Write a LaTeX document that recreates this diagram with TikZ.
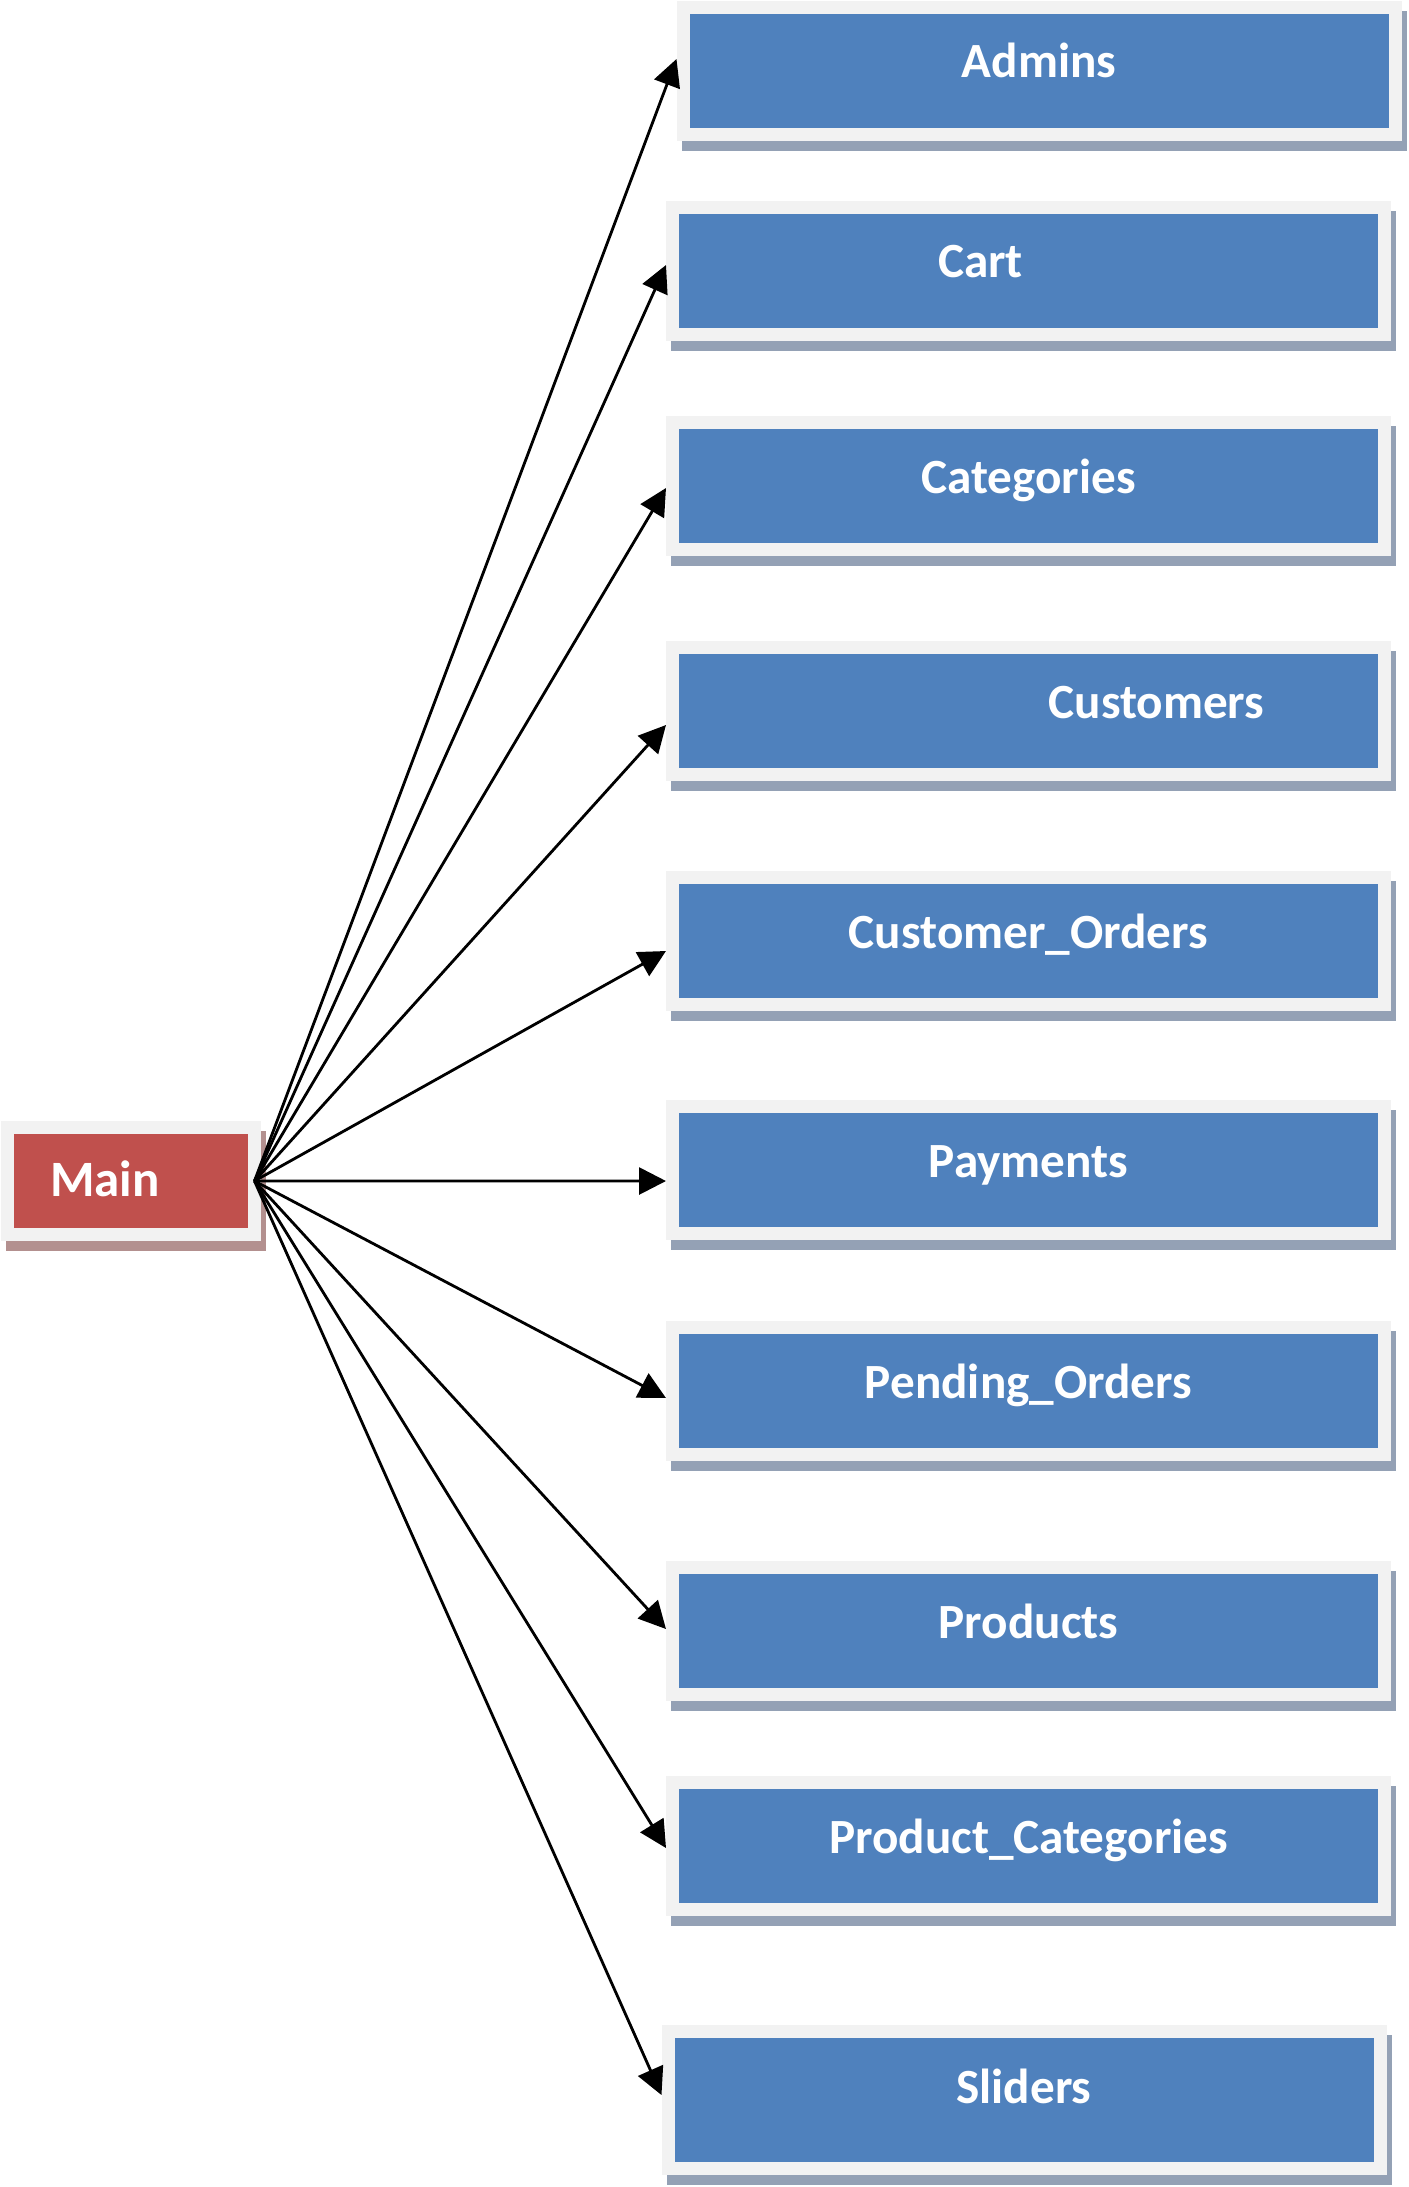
\documentclass[tikz,border=0pt]{standalone}
\usepackage{fontspec}
\setmainfont{Carlito}
\usetikzlibrary{arrows.meta,calc}
\definecolor{tblblue}{HTML}{4F81BD}
\definecolor{tblshadow}{HTML}{94A1B5}
\definecolor{mainred}{HTML}{C0504D}
\definecolor{mainshadow}{HTML}{B3908F}
\definecolor{framegray}{HTML}{F2F2F2}

\begin{document}
\begin{tikzpicture}[
    tbl/.style={fill=tblblue, draw=framegray, line width=0.13cm,
      minimum width=7.12cm, minimum height=1.27cm, inner sep=0pt,
      preaction={fill=tblshadow, draw=tblshadow, line width=0.13cm,
        transform canvas={shift={(0.05cm,-0.1cm)}}}},
    tbltext/.style={text=white, font=\fontsize{14}{16}\selectfont\bfseries,
      text height=0.7em, text depth=0.2em, inner sep=0pt, yshift=0.015cm},
    link/.style={line width=0.8pt, -{Triangle[length=0.27cm,width=0.27cm]}}]
  \useasboundingbox (0,0) rectangle (14.09,-21.87);

  % the main form on the left
  \node[fill=mainred, draw=framegray, line width=0.13cm, outer sep=0pt,
        minimum width=2.47cm, minimum height=1.07cm,
        preaction={fill=mainshadow, draw=mainshadow, line width=0.13cm,
          transform canvas={shift={(0.05cm,-0.1cm)}}},
        label={[tbltext, font=\fontsize{14.5}{16}\selectfont\bfseries,
          xshift=-0.26cm, yshift=-0.085cm]center:Main}] (main) at (1.31,-11.81) {};

  % tables on the right
  \node[tbl, label={[tbltext]center:Admins}] (admins) at (10.39,-0.705) {};
  \node[tbl, label={[tbltext, xshift=-0.48cm]center:Cart}] (cart) at (10.285,-2.705) {};
  \node[tbl, label={[tbltext]center:Categories}] (categories) at (10.285,-4.86) {};
  \node[tbl, label={[tbltext, xshift=1.28cm]center:Customers}] (customers) at (10.285,-7.11) {};
  \node[tbl, label={[tbltext]center:Customer\_Orders}] (custorders) at (10.285,-9.41) {};
  \node[tbl, label={[tbltext]center:Payments}] (payments) at (10.285,-11.70) {};
  \node[tbl, label={[tbltext]center:Pending\_Orders}] (pendorders) at (10.285,-13.91) {};
  \node[tbl, label={[tbltext]center:Products}] (products) at (10.285,-16.31) {};
  \node[tbl, label={[tbltext]center:Product\_Categories}] (prodcats) at (10.285,-18.46) {};
  \node[tbl, minimum height=1.37cm, label={[tbltext, yshift=0.04cm]center:Sliders}] (sliders) at (10.24,-21.00) {};

  % arrows from main to every table
  \foreach \tbl/\dy in {admins/0.115, cart/0.055, categories/-0.02, customers/-0.14,
      custorders/-0.10, payments/-0.11, pendorders/-0.07, products/0.02,
      prodcats/-0.02, sliders/0.05}
    \draw[link] (main.east) -- ([yshift=\dy cm]\tbl.west);
\end{tikzpicture}
\end{document}
